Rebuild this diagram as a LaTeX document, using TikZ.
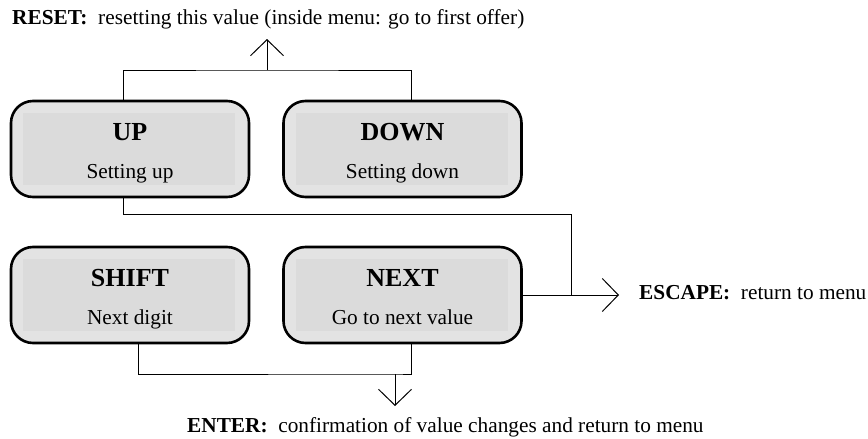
\documentclass[tikz,border=0pt]{standalone}
\usepackage{fontspec}
\setmainfont{Liberation Serif}
\usetikzlibrary{arrows.meta}

\definecolor{keyout}{HTML}{E3E3E3}
\definecolor{keyin}{HTML}{DBDBDB}

\tikzset{
  key/.style={draw, line width=2.6pt, rounded corners=22pt, fill=keyout,
    minimum width=238pt, minimum height=96pt, inner sep=0pt,
    path picture={\fill[keyin, sharp corners] ([shift={(12pt,-12pt)}]path picture bounding box.north west)
      rectangle ([shift={(-14pt,12pt)}]path picture bounding box.south east);}},
  keyname/.style={anchor=base, inner sep=0pt, font=\fontsize{26}{26}\selectfont\bfseries},
  keytext/.style={anchor=base, inner sep=0pt, font=\fontsize{21.3}{22}\selectfont},
  note/.style={anchor=base west, inner sep=0pt, font=\fontsize{21.3}{22}\selectfont},
  wire/.style={line width=1pt},
  push/.style={wire, -{Straight Barb[length=16pt, width=33pt, line width=1pt]}}
}

\begin{document}
\begin{tikzpicture}[x=1pt, y=-1pt]
  \useasboundingbox (0,0) rectangle (868,439);

  % the four keys
  \node[key] (up) at (130,149) {};
  \node[key] (down) at (402.5,149) {};
  \node[key] (shift) at (130,295) {};
  \node[key] (next) at (402.5,295) {};

  \node[keyname] (upname) at ([yshift=8.5pt]up.center) {UP};
  \node[keytext] (uptext) at ([yshift=-29.5pt]up.center) {Setting up};
  \node[keyname] (downname) at ([yshift=8.5pt]down.center) {DOWN};
  \node[keytext] (downtext) at ([yshift=-29.5pt]down.center) {Setting down};
  \node[keyname] (shiftname) at ([yshift=8.5pt]shift.center) {SHIFT};
  \node[keytext] (shifttext) at ([yshift=-29.5pt]shift.center) {Next digit};
  \node[keyname] (nextname) at ([yshift=8.5pt]next.center) {NEXT};
  \node[keytext] (nexttext) at ([yshift=-29.5pt]next.center) {Go to next value};

  % key combinations
  \node[note] (reset) at (12,24) {\textbf{RESET:}\hspace{0.5em}resetting this value (inside menu: go to first offer)};
  \node[note] (escape) at (639,299) {\textbf{ESCAPE:}\hspace{0.5em}return to menu};
  \node[note] (enter) at (187,432) {\textbf{ENTER:}\hspace{0.5em}confirmation of value changes and return to menu};

  \coordinate (rst) at (267,70);
  \coordinate (rsttip) at (267,39);
  \coordinate (esc) at (571,295);
  \coordinate (esctip) at (619,295);
  \coordinate (ent) at (395,374);
  \coordinate (enttip) at (395,406);

  \draw[wire] ([xshift=-7pt]up.north) |- (rst) -| ([xshift=8.5pt]down.north);
  \draw[push] (rst) -- (rsttip);

  \draw[wire] ([xshift=-7pt]up.south) |- (571,214) -- (esc);
  \draw[push] (next.east) -- (esctip);

  \draw[wire] ([xshift=8pt]shift.south) |- (ent) -| ([xshift=8.5pt]next.south);
  \draw[push] (ent) -- (enttip);
\end{tikzpicture}
\end{document}
